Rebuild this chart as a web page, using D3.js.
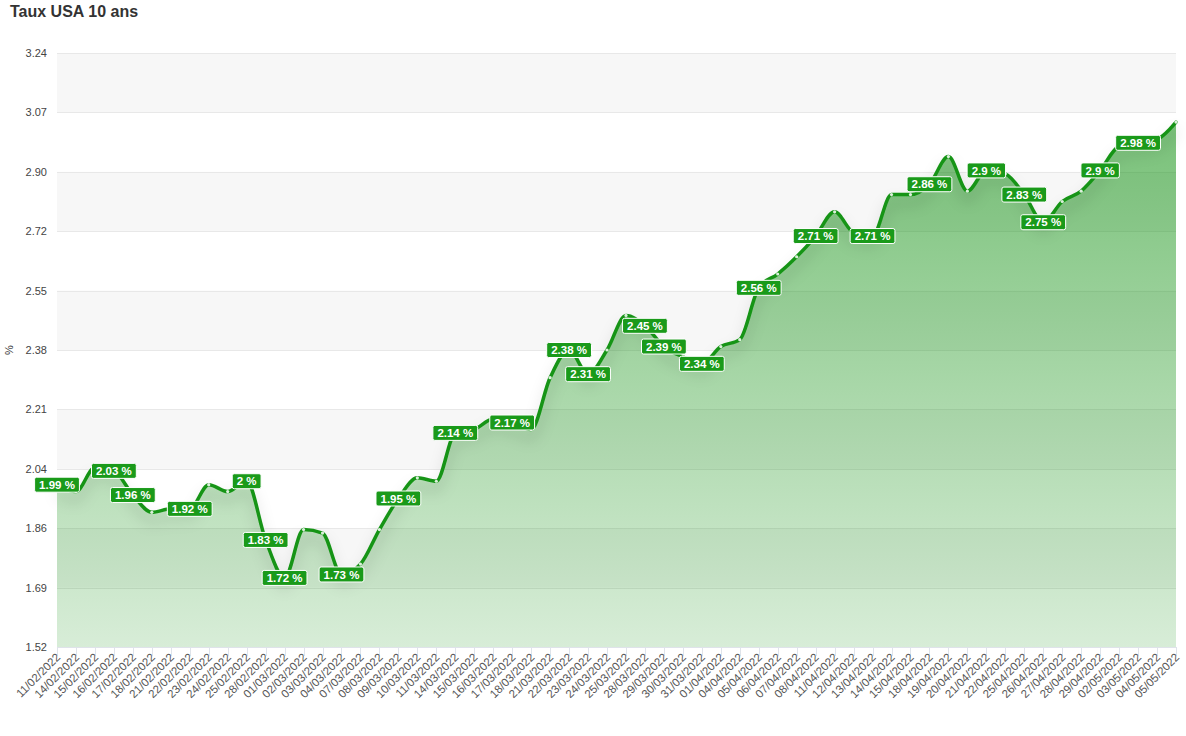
<!DOCTYPE html>
<html>
<head>
<meta charset="utf-8">
<script src="https://cdn.jsdelivr.net/npm/d3@7"></script>
<style>
  html, body { margin: 0; padding: 0; background: #fff; }
  svg { display: block; font-family: "Liberation Sans", Arial, sans-serif; }
</style>
</head>
<body>
<svg id="chart" width="1186" height="736"></svg>
<script>
const title = "Taux USA 10 ans";
const yAxisTitle = "%";
const dates = ["11/02/2022","14/02/2022","15/02/2022","16/02/2022","17/02/2022","18/02/2022","21/02/2022","22/02/2022","23/02/2022","24/02/2022","25/02/2022","28/02/2022",
  "01/03/2022","02/03/2022","03/03/2022","04/03/2022","07/03/2022","08/03/2022","09/03/2022","10/03/2022","11/03/2022","14/03/2022","15/03/2022","16/03/2022","17/03/2022","18/03/2022","21/03/2022","22/03/2022","23/03/2022","24/03/2022","25/03/2022","28/03/2022","29/03/2022","30/03/2022","31/03/2022",
  "01/04/2022","04/04/2022","05/04/2022","06/04/2022","07/04/2022","08/04/2022","11/04/2022","12/04/2022","13/04/2022","14/04/2022","15/04/2022","18/04/2022","19/04/2022","20/04/2022","21/04/2022","22/04/2022","25/04/2022","26/04/2022","27/04/2022","28/04/2022","29/04/2022",
  "02/05/2022","03/05/2022","04/05/2022","05/05/2022"];
const values = [1.99,1.97,2.04,2.03,1.96,1.91,1.92,1.92,1.99,1.97,2.00,1.83,
  1.72,1.86,1.85,1.73,1.76,1.86,1.95,2.01,2.00,2.14,2.15,2.18,2.17,2.15,2.30,2.38,2.31,2.38,2.48,2.45,2.39,2.36,2.34,
  2.39,2.41,2.56,2.60,2.65,2.71,2.78,2.72,2.71,2.83,2.83,2.86,2.94,2.84,2.90,2.89,2.83,2.75,2.81,2.84,2.90,
  2.97,2.98,2.99,3.04];
// dates whose data label is visible (others hidden by overlap in the original)
const labelledDates = ["11/02/2022","16/02/2022","17/02/2022","22/02/2022","25/02/2022","28/02/2022","01/03/2022","04/03/2022","09/03/2022",
  "14/03/2022","17/03/2022","22/03/2022","23/03/2022","28/03/2022","29/03/2022","31/03/2022","05/04/2022","08/04/2022","13/04/2022",
  "18/04/2022","21/04/2022","25/04/2022","26/04/2022","29/04/2022","03/05/2022"];
const yTicks = [1.52, 1.692, 1.864, 2.036, 2.208, 2.38, 2.552, 2.724, 2.896, 3.068, 3.24];

const data = dates.map((d, i) => ({ date: d, value: values[i] }));

const svg = d3.select("#chart");
const plotL = 57, plotR = 1176, plotT = 53, plotB = 647;
const green = "#179417";

const x = d3.scalePoint().domain(dates).range([plotL, plotR]);
const y = d3.scaleLinear().domain([yTicks[0], yTicks[yTicks.length - 1]]).range([plotB, plotT]);

const defs = svg.append("defs");
const grad = defs.append("linearGradient").attr("id", "areaGrad")
  .attr("gradientUnits", "userSpaceOnUse")
  .attr("x1", 0).attr("x2", 0).attr("y1", y(d3.max(values))).attr("y2", plotB);
grad.append("stop").attr("offset", "0%").attr("stop-color", green).attr("stop-opacity", 0.58);
grad.append("stop").attr("offset", "100%").attr("stop-color", green).attr("stop-opacity", 0.17);

const shadow = defs.append("filter").attr("id", "lineShadow")
  .attr("x", "-10%").attr("y", "-20%").attr("width", "120%").attr("height", "160%");
shadow.append("feDropShadow").attr("dx", 0).attr("dy", 9).attr("stdDeviation", 7)
  .attr("flood-color", "#000").attr("flood-opacity", 0.2);

// title
svg.append("text").attr("x", 10).attr("y", 17)
  .attr("font-size", 16).attr("font-weight", "bold").attr("fill", "#333")
  .text(title);

// alternate bands
const bands = svg.append("g");
for (let i = 0; i < yTicks.length - 1; i++) {
  const from = yTicks[yTicks.length - 1 - i], to = yTicks[yTicks.length - 2 - i];
  if (i % 2 === 0) {
    bands.append("rect").attr("x", plotL).attr("width", plotR - plotL)
      .attr("y", y(from)).attr("height", y(to) - y(from)).attr("fill", "#f7f7f7");
  }
}
// grid lines
svg.append("g").selectAll("line").data(yTicks).join("line")
  .attr("x1", plotL).attr("x2", plotR)
  .attr("y1", d => Math.round(y(d)) + 0.5).attr("y2", d => Math.round(y(d)) + 0.5)
  .attr("stroke", "#e8e8e8").attr("stroke-width", 1);

// y axis labels
svg.append("g").selectAll("text").data(yTicks).join("text")
  .attr("x", 47).attr("y", d => y(d) + 4)
  .attr("text-anchor", "end").attr("font-size", 11).attr("fill", "#444")
  .text(d => d3.format(".2f")(d));

svg.append("text")
  .attr("transform", `translate(13,${(plotT + plotB) / 2}) rotate(-90)`)
  .attr("text-anchor", "middle").attr("font-size", 11).attr("fill", "#333")
  .text(yAxisTitle);

// x axis
const xAxis = svg.append("g");
xAxis.append("line").attr("x1", plotL).attr("x2", plotR).attr("y1", plotB + 0.5).attr("y2", plotB + 0.5)
  .attr("stroke", "#dfe3ea");
xAxis.selectAll("line.tick").data(dates).join("line").attr("class", "tick")
  .attr("x1", d => Math.round(x(d)) + 0.5).attr("x2", d => Math.round(x(d)) + 0.5)
  .attr("y1", plotB).attr("y2", plotB + 9)
  .attr("stroke", "#dfe3ea");
xAxis.selectAll("text").data(dates).join("text")
  .attr("transform", d => `translate(${x(d) + 4},${plotB + 11}) rotate(-45)`)
  .attr("text-anchor", "end").attr("font-size", 11.5).attr("fill", "#555")
  .text(d => d);

// area + line
const curve = d3.curveMonotoneX;
const area = d3.area().x(d => x(d.date)).y0(plotB).y1(d => y(d.value)).curve(curve);
const line = d3.line().x(d => x(d.date)).y(d => y(d.value)).curve(curve);

svg.append("path").datum(data).attr("d", area).attr("fill", "url(#areaGrad)");
svg.append("path").datum(data).attr("d", line)
  .attr("fill", "none").attr("stroke", green).attr("stroke-width", 3.5)
  .attr("stroke-linejoin", "round").attr("stroke-linecap", "round")
  .attr("filter", "url(#lineShadow)");

// markers
svg.append("g").selectAll("circle").data(data).join("circle")
  .attr("cx", d => x(d.date)).attr("cy", d => y(d.value)).attr("r", 1.6)
  .attr("fill", "#fff").attr("opacity", 0.85);

// data labels
const lbl = svg.append("g").selectAll("g").data(data.filter(d => labelledDates.includes(d.date))).join("g")
  .attr("transform", d => `translate(${x(d.date)},${y(d.value)})`);
lbl.each(function(d) {
  const g = d3.select(this);
  const rect = g.append("rect");
  const t = g.append("text").attr("text-anchor", "middle").attr("y", 4.2)
    .attr("font-size", 11.5).attr("font-weight", "bold").attr("fill", "#fff")
    .text((+d.value.toFixed(2)) + " %");
  const w = t.node().getComputedTextLength() + 9;
  rect.attr("x", -w / 2).attr("y", -7.5).attr("width", w).attr("height", 15)
    .attr("rx", 2).attr("fill", "#1a9a1a").attr("stroke", "#fff").attr("stroke-width", 1);
});
</script>
</body>
</html>
